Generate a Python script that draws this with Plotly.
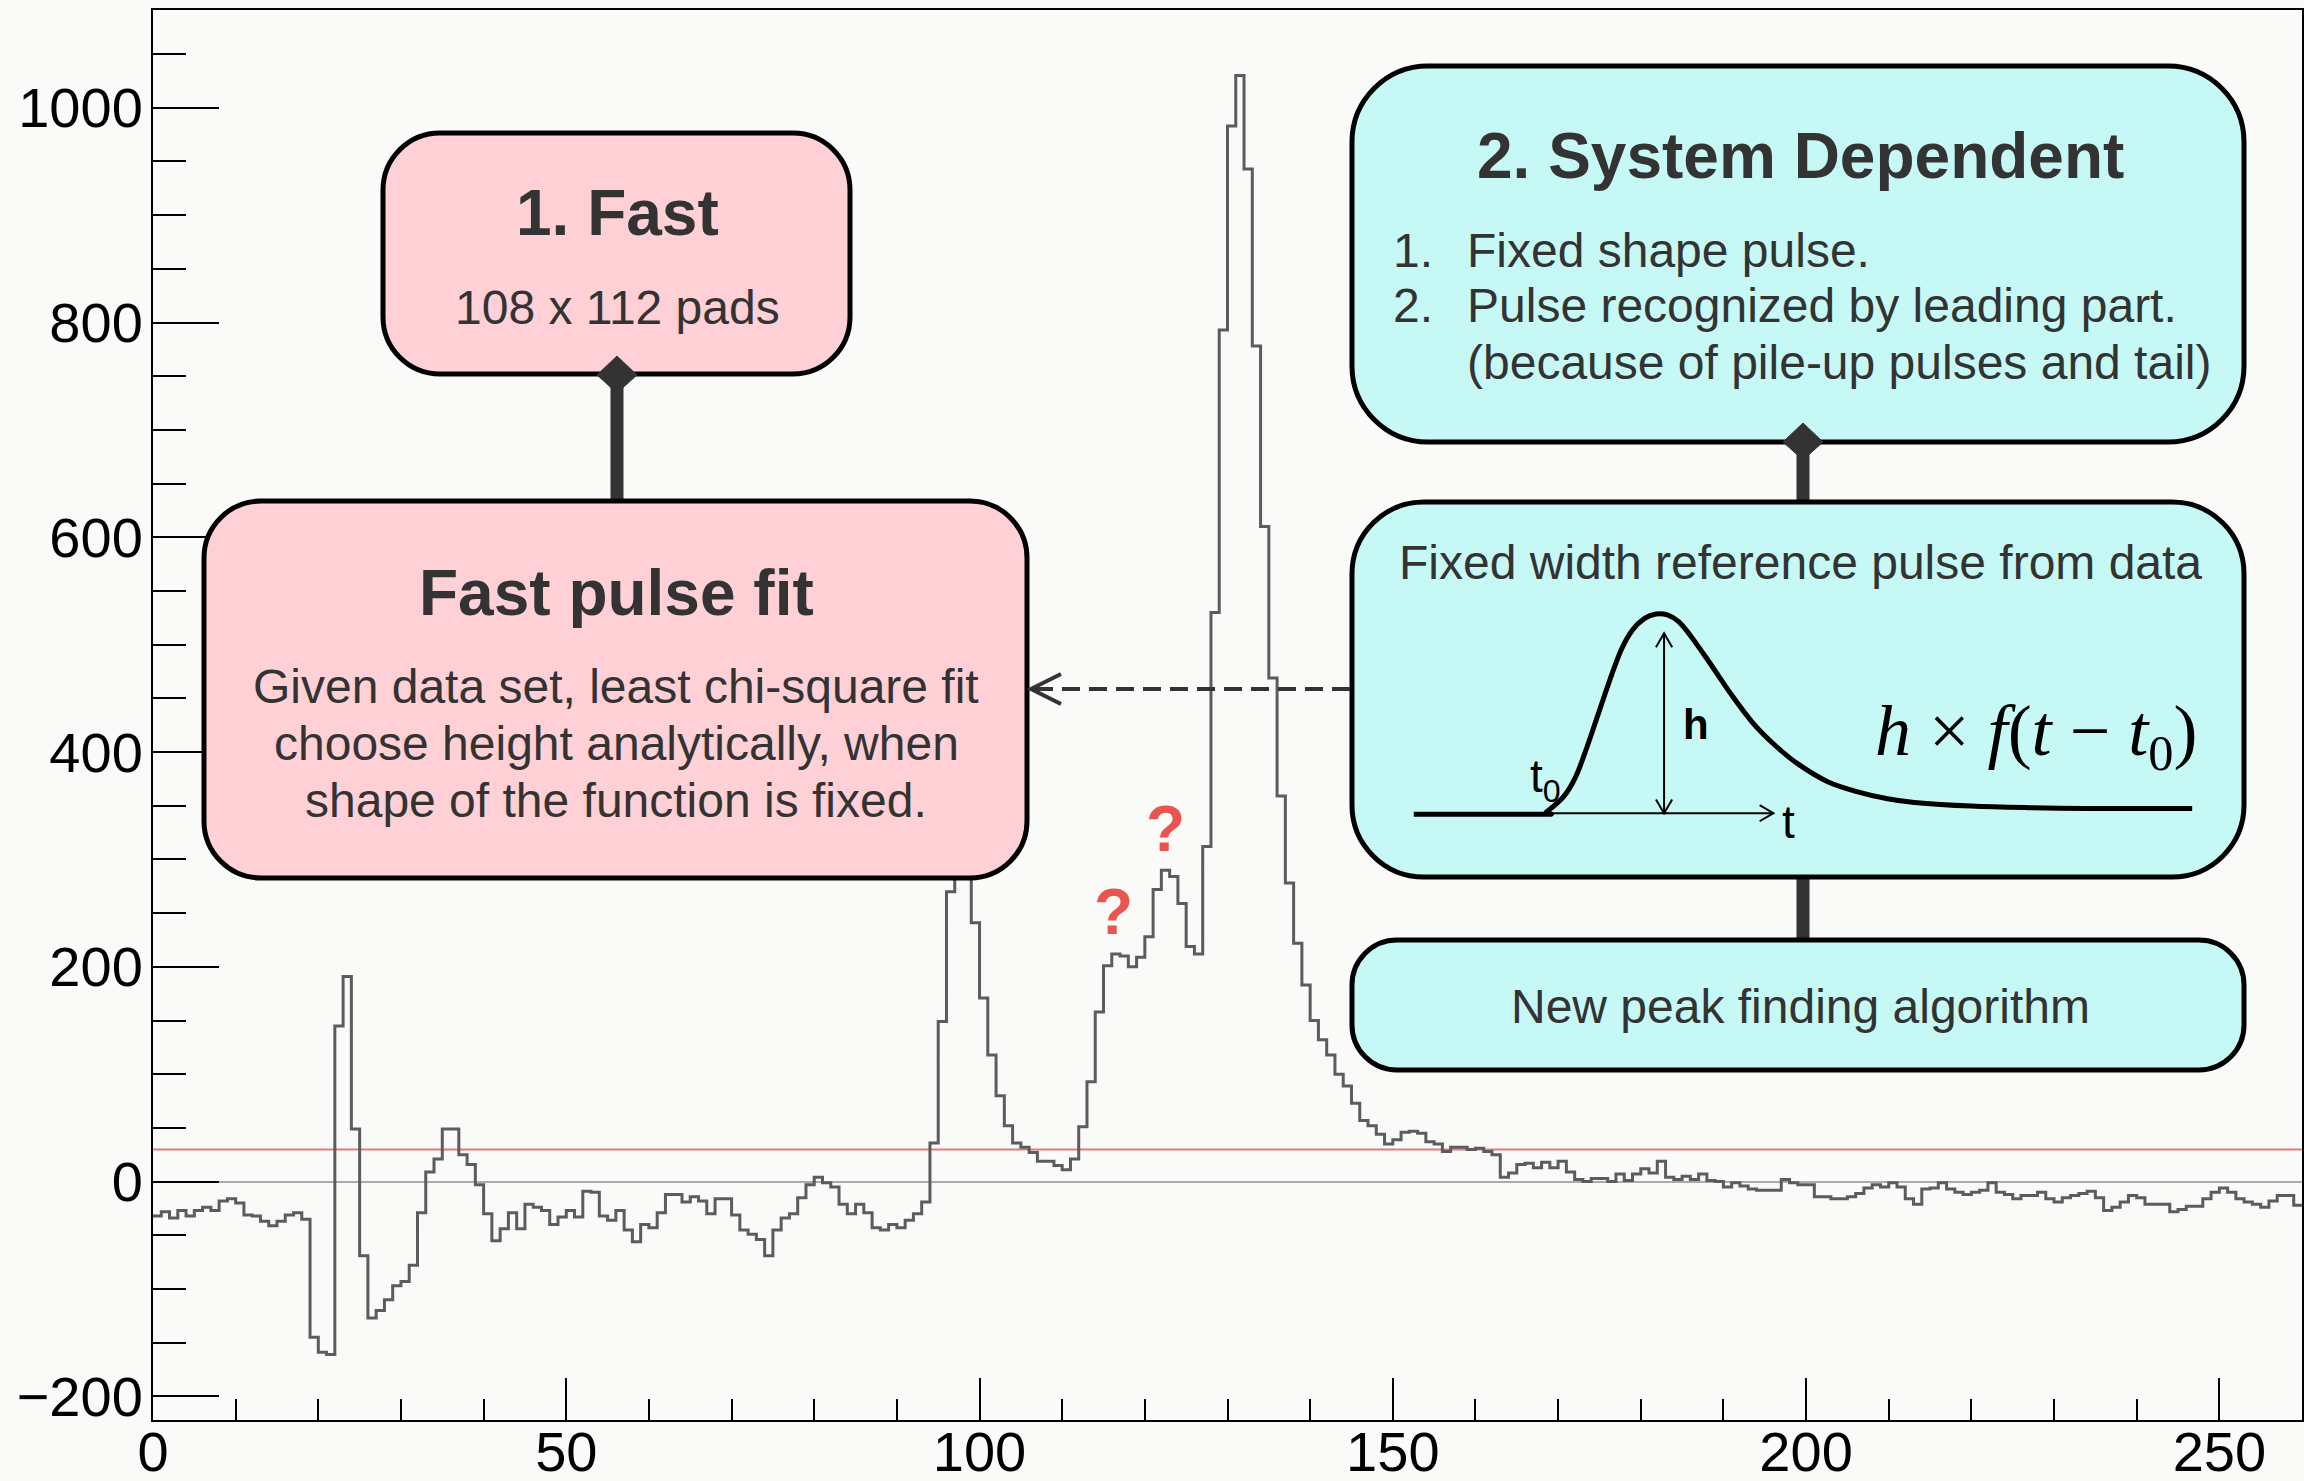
import numpy as np
import plotly.graph_objects as go

# ---------------- data ----------------
counts = [
    -32, -28, -34, -27, -32, -27, -24, -27, -18, -16,
    -20, -31, -32, -37, -41, -37, -31, -29, -35, -145,
    -159, -161, 145, 191, 49, -69, -127, -120, -110, -97,
    -93, -78, -29, 9, 21, 49, 49, 25, 16, -3,
    -30, -55, -44, -29, -44, -21, -24, -27, -40, -33,
    -27, -33, -9, -10, -32, -36, -27, -45, -56, -40,
    -43, -29, -12, -12, -19, -14, -18, -30, -16, -16,
    -31, -45, -49, -54, -69, -45, -34, -30, -15, -3,
    4, -1, -5, -21, -30, -21, -29, -43, -45, -40,
    -43, -36, -30, -19, 36, 149, 270, 340, 330, 241,
    171, 118, 80, 52, 36, 32, 27, 19, 19, 15,
    11, 21, 51, 93, 158, 201, 212, 210, 200, 209,
    228, 272, 290, 284, 259, 219, 212, 312, 530, 793,
    983, 1030, 943, 778, 610, 469, 359, 278, 222, 183,
    150, 132, 118, 100, 89, 73, 57, 52, 44, 35,
    39, 46, 47, 45, 37, 35, 28, 32, 32, 30,
    31, 28, 25, 4, 8, 16, 17, 13, 18, 13,
    19, 9, 2, 0, 3, 3, 0, 7, 1, 7,
    12, 8, 19, 4, 2, 5, 2, 7, 1, 0,
    -5, -1, -4, -7, -8, -8, -8, 2, -1, -3,
    -3, -14, -14, -16, -16, -14, -11, -6, -3, -5,
    -1, -5, -16, -21, -7, -6, -1, -7, -10, -12,
    -10, -8, -1, -10, -12, -16, -13, -13, -10, -16,
    -19, -15, -13, -11, -9, -15, -27, -24, -19, -13,
    -15, -21, -21, -21, -28, -26, -23, -23, -16, -10,
    -6, -10, -16, -19, -21, -24, -18, -13, -13, -22,
]
bin_width = 1
threshold = 30
x_range = [0, 260]
y_range = [-222, 1091]

# reference pulse sketch (inset units 0..100)
pulse_t = [1.7, 17.4, 18.1, 20.2, 21.7, 23.1, 24.5, 25.9, 27.3, 28.7, 30.2, 31.6,
           33.0, 34.4, 35.8, 38.0, 40.8, 43.6, 46.5, 49.3, 52.8, 56.4, 59.9,
           63.5, 70.5, 77.6, 84.7, 97.8]
pulse_f = [6.8, 6.8, 7.9, 14.5, 23.2, 36.2, 50.7, 65.2, 78.3, 87.0, 92.0, 93.9,
           93.5, 90.6, 84.8, 73.9, 59.4, 46.4, 36.2, 28.3, 21.0, 16.7, 13.8,
           12.0, 10.4, 9.7, 9.4, 9.4]
h_arrow_t, h_arrow_f0, h_arrow_f1 = 32.6, 7.3, 85.5
t_arrow_t0, t_arrow_t1, t_arrow_f = 17.4, 46.1, 7.3

# ---------------- page geometry ----------------
W_PAGE, H_PAGE = 2304, 1481
ML, MR, MT, MB = 153, 2, 10, 61
PW = W_PAGE - ML - MR
PH = H_PAGE - MT - MB


def px(x):
    return (x - ML) / PW


def py(y):
    return (H_PAGE - MB - y) / PH


FONT = "Liberation Sans, Arial, Helvetica, sans-serif"
TXT = "#333333"
PINK = "#FFD0D5"
CYAN = "#C6F9F5"
DARK = "#333333"

fig = go.Figure()

edges = np.arange(len(counts) + 1) * bin_width
fig.add_trace(go.Scatter(x=x_range, y=[threshold, threshold], mode="lines",
                         line=dict(color="#E07C7C", width=2), hoverinfo="skip",
                         showlegend=False))
fig.add_trace(go.Scatter(x=edges, y=list(counts) + [counts[-1]], mode="lines",
                         line=dict(color="#5C5C5C", width=3, shape="hv"),
                         showlegend=False))
# invisible anchor trace for the inset axes
fig.add_trace(go.Scatter(x=[0, 100], y=[0, 100], xaxis="x2", yaxis="y2",
                         mode="markers", marker=dict(opacity=0), hoverinfo="skip",
                         showlegend=False))

shapes = []


def rrect(x0, y0, x1, y1, r, fill):
    k = 0.5523 * r
    pts = [
        ("M", [(x0 + r, y0)]),
        ("L", [(x1 - r, y0)]),
        ("C", [(x1 - r + k, y0), (x1, y0 + r - k), (x1, y0 + r)]),
        ("L", [(x1, y1 - r)]),
        ("C", [(x1, y1 - r + k), (x1 - r + k, y1), (x1 - r, y1)]),
        ("L", [(x0 + r, y1)]),
        ("C", [(x0 + r - k, y1), (x0, y1 - r + k), (x0, y1 - r)]),
        ("L", [(x0, y0 + r)]),
        ("C", [(x0, y0 + r - k), (x0 + r - k, y0), (x0 + r, y0)]),
    ]
    s = ""
    for cmd, ps in pts:
        s += cmd + " " + " ".join(f"{px(a):.5f},{py(b):.5f}" for a, b in ps) + " "
    s += "Z"
    shapes.append(dict(type="path", path=s, xref="paper", yref="paper",
                       fillcolor=fill, line=dict(color="black", width=5),
                       layer="above"))


def pline(pts, color=DARK, width=4, dash=None, fill=None, close=False):
    s = "M " + " L ".join(f"{px(a):.5f},{py(b):.5f}" for a, b in pts)
    if close:
        s += " Z"
    d = dict(type="path", path=s, xref="paper", yref="paper",
             line=dict(color=color, width=width), layer="above")
    if dash:
        d["line"]["dash"] = dash
    if fill:
        d["fillcolor"] = fill
    shapes.append(d)


# connectors (drawn first, boxes cover the ends)
pline([(617, 380), (617, 503)], width=13)
pline([(1803, 445), (1803, 503)], width=13)
pline([(1803, 875), (1803, 942)], width=13)

rrect(383, 133, 850, 374, 57, PINK)
rrect(204, 501, 1027, 878, 57, PINK)
rrect(1352, 66, 2244, 442, 76, CYAN)
rrect(1352, 502, 2244, 877, 72, CYAN)
rrect(1352, 940, 2244, 1070, 45, CYAN)

# diamonds
pline([(617, 356), (637, 375), (617, 393), (597, 375)], width=1, fill=DARK, close=True)
pline([(1803, 423), (1823, 442), (1803, 460), (1783, 442)], width=1, fill=DARK, close=True)

# dashed arrow
pline([(1350, 689), (1033, 689)], width=4, dash="18px,9px")
pline([(1061, 674), (1031, 689), (1061, 704)], width=4)

# pulse sketch in inset axes (Catmull-Rom smoothed path)
P = list(zip(pulse_t, pulse_f))
path = f"M {P[0][0]},{P[0][1]} L {P[1][0]},{P[1][1]}"
for i in range(1, len(P) - 1):
    p0 = P[i - 1]
    p1 = P[i]
    p2 = P[i + 1]
    p3 = P[i + 2] if i + 2 < len(P) else P[i + 1]
    c1 = (p1[0] + (p2[0] - p0[0]) / 6, p1[1] + (p2[1] - p0[1]) / 6)
    c2 = (p2[0] - (p3[0] - p1[0]) / 6, p2[1] - (p3[1] - p1[1]) / 6)
    path += f" C {c1[0]:.3f},{c1[1]:.3f} {c2[0]:.3f},{c2[1]:.3f} {p2[0]:.3f},{p2[1]:.3f}"
shapes.append(dict(type="path", path=path, xref="x2", yref="y2",
                   line=dict(color="black", width=5), layer="above"))


def iline(pts, width=2):
    s = "M " + " L ".join(f"{a},{b}" for a, b in pts)
    shapes.append(dict(type="path", path=s, xref="x2", yref="y2",
                       line=dict(color="black", width=width), layer="above"))


iline([(h_arrow_t, h_arrow_f0), (h_arrow_t, h_arrow_f1)])
iline([(h_arrow_t - 1.0, h_arrow_f1 - 6.0), (h_arrow_t, h_arrow_f1), (h_arrow_t + 1.0, h_arrow_f1 - 6.0)])
iline([(h_arrow_t - 1.0, h_arrow_f0 + 6.0), (h_arrow_t, h_arrow_f0), (h_arrow_t + 1.0, h_arrow_f0 + 6.0)])
iline([(t_arrow_t0, t_arrow_f), (t_arrow_t1, t_arrow_f)])
iline([(t_arrow_t1 - 1.7, t_arrow_f + 3.5), (t_arrow_t1, t_arrow_f), (t_arrow_t1 - 1.7, t_arrow_f - 3.5)])

annotations = []


def label(text, x, y, size, color=TXT, xanchor="center", family=FONT, xref="paper", yref="paper"):
    if xref == "paper":
        x, y = px(x), py(y)
    annotations.append(dict(text=text, x=x, y=y, xref=xref, yref=yref, showarrow=False,
                            xanchor=xanchor, yanchor="middle",
                            font=dict(size=size, color=color, family=family)))


label("<b>1. Fast</b>", 617, 213, 64)
label("108 x 112 pads", 617, 307, 48)
label("<b>Fast pulse fit</b>", 616, 593, 64)
label("Given data set, least chi-square fit", 616, 686, 48)
label("choose height analytically, when", 616, 743, 48)
label("shape of the function is fixed.", 616, 800, 48)

label("<b>2. System Dependent</b>", 1800, 156, 64)
label("1.", 1391, 250, 48, xanchor="left")
label("2.", 1391, 306, 48, xanchor="left")
label("Fixed shape pulse.", 1465, 250, 48, xanchor="left")
label("Pulse recognized by leading part.", 1465, 306, 48, xanchor="left")
label("(because of pile-up pulses and tail)", 1465, 363, 48, xanchor="left")
label("Fixed width reference pulse from data", 1800, 563, 48)
label("New peak finding algorithm", 1800, 1006, 48)

label("<b>?</b>", 1113, 912, 64, color="#E8544F")
label("<b>?</b>", 1165, 829, 64, color="#E8544F")

label("<b>h</b>", 36.5, 45.9, 42, color="black", xref="x2", yref="y2")
label("t", 48.0, 3.5, 46, color="black", xref="x2", yref="y2")
label("t<sub>0</sub>", 18.0, 22.0, 46, color="black", xref="x2", yref="y2")
label("<i>h</i> × <i>f</i>(<i>t</i> − <i>t</i><sub>0</sub>)", 78.5, 41.0, 72, color="black",
      family="Liberation Serif, Times New Roman, serif", xref="x2", yref="y2")

axis_common = dict(showline=True, mirror=True, linecolor="black", linewidth=2,
                   ticks="inside", tickwidth=2, tickcolor="black", showgrid=False,
                   automargin=False,
                   tickfont=dict(family=FONT, size=56, color="black"))

fig.update_layout(
    width=W_PAGE, height=H_PAGE, autosize=False,
    margin=dict(l=ML, r=MR, t=MT, b=MB, pad=0, autoexpand=False),
    paper_bgcolor="#FAFAF8", plot_bgcolor="#FAFAF8",
    showlegend=False,
    xaxis=dict(range=x_range, tick0=0, dtick=50, ticklen=42, zeroline=False,
               ticklabelstandoff=-18,
               minor=dict(ticks="inside", ticklen=21, dtick=10, tickwidth=2,
                          tickcolor="black", showgrid=False),
               **axis_common),
    yaxis=dict(range=y_range, tick0=0, dtick=200, ticklen=66, zeroline=True,
               zerolinecolor="#ABABAB", zerolinewidth=2, ticklabelstandoff=-3,
               minor=dict(ticks="inside", ticklen=33, dtick=50, tickwidth=2,
                          tickcolor="black", showgrid=False),
               **axis_common),
    xaxis2=dict(domain=[px(1400), px(2210)], range=[0, 100], anchor="y2",
                visible=False, fixedrange=True),
    yaxis2=dict(domain=[py(830), py(600)], range=[0, 100], anchor="x2",
                visible=False, fixedrange=True),
    shapes=shapes,
    annotations=annotations,
)

fig.write_html("out.html")
